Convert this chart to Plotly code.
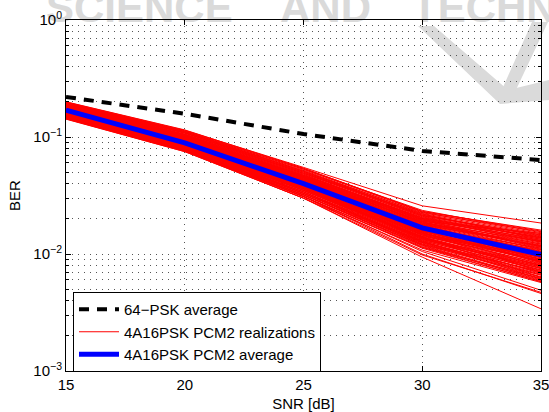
import plotly.graph_objects as go

# ---- data ----
snr_db = [15, 20, 25, 30, 35]
psk64_avg = [0.220, 0.158, 0.106, 0.076, 0.0635]
pcm2_avg = [0.170, 0.089, 0.040, 0.0167, 0.0099]
pcm2_realizations = [
    [0.199, 0.114, 0.055, 0.0258, 0.0184],
    [0.200, 0.115, 0.054, 0.0230, 0.0160],
    [0.196, 0.112, 0.053, 0.0236, 0.0152],
    [0.193, 0.110, 0.052, 0.0222, 0.0146],
    [0.192, 0.108, 0.051, 0.0214, 0.0143],
    [0.190, 0.108, 0.050, 0.0215, 0.0138],
    [0.187, 0.108, 0.049, 0.0220, 0.0133],
    [0.186, 0.105, 0.049, 0.0208, 0.0130],
    [0.184, 0.103, 0.047, 0.0202, 0.0127],
    [0.183, 0.101, 0.047, 0.0196, 0.0134],
    [0.181, 0.101, 0.046, 0.0195, 0.0121],
    [0.180, 0.104, 0.045, 0.0193, 0.0115],
    [0.178, 0.099, 0.045, 0.0188, 0.0116],
    [0.177, 0.097, 0.046, 0.0183, 0.0122],
    [0.175, 0.097, 0.043, 0.0182, 0.0110],
    [0.176, 0.099, 0.042, 0.0176, 0.0100],
    [0.172, 0.095, 0.042, 0.0176, 0.0105],
    [0.173, 0.093, 0.043, 0.0189, 0.0112],
    [0.170, 0.093, 0.041, 0.0170, 0.0100],
    [0.169, 0.095, 0.039, 0.0171, 0.0104],
    [0.167, 0.091, 0.039, 0.0162, 0.0096],
    [0.166, 0.089, 0.040, 0.0156, 0.0095],
    [0.164, 0.089, 0.038, 0.0155, 0.0091],
    [0.165, 0.090, 0.037, 0.0160, 0.0084],
    [0.161, 0.087, 0.037, 0.0150, 0.0087],
    [0.162, 0.085, 0.038, 0.0146, 0.0090],
    [0.159, 0.085, 0.036, 0.0145, 0.0083],
    [0.158, 0.087, 0.035, 0.0139, 0.0075],
    [0.156, 0.083, 0.035, 0.0139, 0.0079],
    [0.155, 0.082, 0.036, 0.0133, 0.0078],
    [0.153, 0.082, 0.034, 0.0133, 0.0075],
    [0.152, 0.084, 0.033, 0.0127, 0.0067],
    [0.150, 0.080, 0.033, 0.0126, 0.0070],
    [0.151, 0.078, 0.034, 0.0121, 0.0071],
    [0.148, 0.078, 0.032, 0.0120, 0.0066],
    [0.147, 0.080, 0.031, 0.0114, 0.0058],
    [0.145, 0.076, 0.031, 0.0114, 0.0062],
    [0.142, 0.075, 0.030, 0.0108, 0.0057],
    [0.144, 0.076, 0.031, 0.0105, 0.0049],
    [0.146, 0.077, 0.031, 0.0100, 0.0046],
    [0.145, 0.076, 0.030, 0.0094, 0.0034],
    [0.143, 0.075, 0.030, 0.0098, 0.0047],
    [0.188, 0.104, 0.048, 0.0200, 0.0140],
    [0.179, 0.098, 0.044, 0.0185, 0.0128],
    [0.171, 0.094, 0.042, 0.0178, 0.0118],
    [0.168, 0.091, 0.040, 0.0165, 0.0108],
    [0.163, 0.088, 0.039, 0.0158, 0.0102],
    [0.160, 0.086, 0.037, 0.0148, 0.0094],
    [0.157, 0.084, 0.036, 0.0142, 0.0088],
    [0.154, 0.081, 0.035, 0.0136, 0.0081],
    [0.150, 0.079, 0.033, 0.0130, 0.0073],
    [0.149, 0.079, 0.032, 0.0124, 0.0064],
    [0.174, 0.096, 0.044, 0.0190, 0.0150],
    [0.182, 0.100, 0.045, 0.0172, 0.0089],
    [0.166, 0.092, 0.041, 0.0152, 0.0079],
    [0.158, 0.083, 0.037, 0.0136, 0.0068],
    [0.152, 0.080, 0.034, 0.0129, 0.0061],
    [0.194, 0.111, 0.051, 0.0225, 0.0155],
    [0.185, 0.102, 0.047, 0.0205, 0.0137],
    [0.169, 0.092, 0.040, 0.0168, 0.0112],
    [0.161, 0.087, 0.038, 0.0150, 0.0093],
    [0.147, 0.077, 0.032, 0.0118, 0.0059],
    [0.197, 0.113, 0.054, 0.0232, 0.0157],
    [0.195, 0.111, 0.053, 0.0228, 0.0149],
    [0.191, 0.109, 0.051, 0.0218, 0.0141],
    [0.189, 0.106, 0.050, 0.0212, 0.0145],
    [0.187, 0.105, 0.049, 0.0210, 0.0136],
    [0.185, 0.104, 0.048, 0.0204, 0.0131],
    [0.183, 0.102, 0.047, 0.0199, 0.0126],
    [0.182, 0.101, 0.046, 0.0197, 0.0129],
    [0.180, 0.100, 0.046, 0.0192, 0.0124],
    [0.179, 0.099, 0.045, 0.0187, 0.0119],
    [0.177, 0.098, 0.045, 0.0184, 0.0114],
    [0.176, 0.097, 0.044, 0.0180, 0.0117],
    [0.175, 0.096, 0.043, 0.0178, 0.0109],
    [0.173, 0.095, 0.043, 0.0174, 0.0106],
    [0.172, 0.094, 0.042, 0.0172, 0.0103],
    [0.171, 0.093, 0.042, 0.0169, 0.0098],
    [0.169, 0.092, 0.041, 0.0166, 0.0101],
    [0.168, 0.091, 0.041, 0.0163, 0.0097],
    [0.167, 0.090, 0.040, 0.0161, 0.0093],
    [0.165, 0.089, 0.039, 0.0158, 0.0090],
    [0.164, 0.088, 0.039, 0.0157, 0.0086],
    [0.163, 0.088, 0.038, 0.0153, 0.0088],
    [0.162, 0.087, 0.038, 0.0151, 0.0085],
    [0.160, 0.086, 0.037, 0.0147, 0.0082],
    [0.159, 0.085, 0.037, 0.0144, 0.0080],
    [0.158, 0.084, 0.036, 0.0141, 0.0077],
    [0.156, 0.083, 0.036, 0.0138, 0.0073],
    [0.155, 0.082, 0.035, 0.0135, 0.0076],
    [0.154, 0.081, 0.035, 0.0131, 0.0072],
    [0.152, 0.080, 0.034, 0.0128, 0.0069],
    [0.151, 0.079, 0.033, 0.0125, 0.0066],
    [0.149, 0.078, 0.033, 0.0122, 0.0063],
    [0.148, 0.078, 0.032, 0.0119, 0.0061],
    [0.146, 0.077, 0.032, 0.0116, 0.0060],
    [0.144, 0.076, 0.031, 0.0112, 0.0058],
    [0.178, 0.098, 0.044, 0.0170, 0.0085],
    [0.170, 0.091, 0.040, 0.0154, 0.0070],
    [0.160, 0.085, 0.037, 0.0140, 0.0063],
]
x_tickvals = [15, 20, 25, 30, 35]
y_tickvals = [0.001, 0.01, 0.1, 1]
y_ticktext = ["10<sup>\u22123</sup>", "10<sup>\u22122</sup>", "10<sup>\u22121</sup>", "10<sup>0</sup>"]
y_minor_vals = [m * d for d in (0.001, 0.01, 0.1) for m in range(2, 10)]

FONT = "Liberation Sans, Arial, Helvetica, sans-serif"
FS = 15

fig = go.Figure()

fig.add_trace(go.Scatter(
    x=snr_db, y=psk64_avg, mode="lines", name="64\u2212PSK average",
    line=dict(color="black", width=4, dash="10px,8px"),
))
for i, row in enumerate(pcm2_realizations):
    fig.add_trace(go.Scatter(
        x=snr_db, y=row, mode="lines", name="4A16PSK PCM2 realizations",
        line=dict(color="#ff0000", width=1), legendgroup="real",
        showlegend=(i == 0),
    ))
fig.add_trace(go.Scatter(
    x=snr_db, y=pcm2_avg, mode="lines", name="4A16PSK PCM2 average",
    line=dict(color="#0000ff", width=5),
))

grid_color = "#555555"
fig.update_xaxes(
    range=[15, 35], tickmode="array", tickvals=x_tickvals,
    ticks="inside", ticklen=5, tickcolor="black",
    showline=True, linecolor="black", linewidth=1, mirror="allticks",
    showgrid=True, gridcolor=grid_color, griddash="1px,5px", gridwidth=1,
    zeroline=False, automargin=False, ticklabeloverflow="allow",
    title=dict(text="SNR [dB]", font=dict(size=FS, family=FONT), standoff=9),
    tickfont=dict(size=FS, family=FONT),
)
fig.update_yaxes(
    type="log", range=[-3, 0], tickmode="array",
    tickvals=y_tickvals, ticktext=y_ticktext,
    ticks="inside", ticklen=5, tickcolor="black",
    showline=True, linecolor="black", linewidth=1, mirror="allticks",
    showgrid=True, gridcolor=grid_color, griddash="1px,5px", gridwidth=1,
    minor=dict(tickmode="array", tickvals=y_minor_vals, ticks="inside", ticklen=3,
               tickcolor="black", showgrid=True, gridcolor=grid_color,
               griddash="1px,5px", gridwidth=1),
    zeroline=False, automargin=False, ticklabeloverflow="allow",
    title=dict(text="BER", font=dict(size=FS, family=FONT), standoff=9),
    tickfont=dict(size=FS, family=FONT),
)

# ---- watermark (drawn beneath everything) ----
def P(px, py):
    return (px - 66) / 475, (371 - py) / 351

WM = "#dadada"
for txt, x0, x1 in (("SCIENCE", 40, 236), ("AND", 274, 380), ("TECHNOLOGY", 406, 720)):
    a = P(x0, 34)
    b = P(x1, -28)
    fig.add_shape(type="rect", xref="paper", yref="paper",
                  x0=a[0], x1=b[0], y0=a[1], y1=b[1],
                  line=dict(width=0), fillcolor="rgba(0,0,0,0)", layer="below",
                  label=dict(text=txt, textposition="middle left",
                             font=dict(size=42, color=WM, family="Liberation Sans, Arial",
                                       weight="bold")))

pts = [P(418, 26), P(434, 26), P(508, 90), P(549, 80), P(549, 100), P(500, 104)]
path = "M " + " L ".join("%f,%f" % p for p in pts) + " Z"
fig.add_shape(type="path", path=path, xref="paper", yref="paper",
              fillcolor=WM, line=dict(width=0), layer="below")
pts2 = [P(532, 22), P(548, 22), P(514, 94), P(500, 94)]
path2 = "M " + " L ".join("%f,%f" % p for p in pts2) + " Z"
fig.add_shape(type="path", path=path2, xref="paper", yref="paper",
              fillcolor=WM, line=dict(width=0), layer="below")

fig.update_layout(
    width=549, height=412,
    margin=dict(l=66, r=8, t=20, b=41),
    plot_bgcolor="rgba(0,0,0,0)", paper_bgcolor="white",
    font=dict(family=FONT, size=FS, color="black"),
    showlegend=True,
    legend=dict(x=(73 - 66) / 475, y=(371 - 292) / 351, xanchor="left", yanchor="top",
                bordercolor="black", borderwidth=1, bgcolor="white",
                font=dict(size=FS, family=FONT), tracegroupgap=0,
                itemwidth=40),
)

fig.write_html("out.html")
